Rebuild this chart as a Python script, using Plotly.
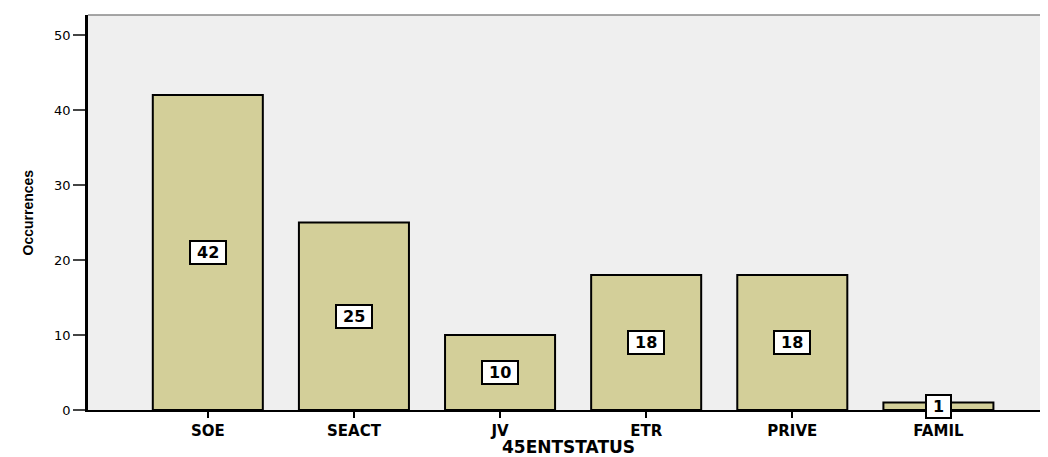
import plotly.graph_objects as go

categories = ["SOE", "SEACT", "JV", "ETR", "PRIVE", "FAMIL"]
counts = [42, 25, 10, 18, 18, 1]
y_ticks = [0, 10, 20, 30, 40, 50]

fig = go.Figure()
fig.add_trace(go.Bar(
    x=categories, y=counts, width=0.753,
    marker=dict(color="#D3CF99", line=dict(color="#000000", width=2)),
    hoverinfo="x+y",
))

for c, v in zip(categories, counts):
    fig.add_annotation(
        x=c, y=v / 2, text="&nbsp;<b>%d</b>&nbsp;" % v, showarrow=False,
        font=dict(family="DejaVu Sans, Liberation Sans", size=16, color="#000"),
        bgcolor="#FFFFFF", bordercolor="#000000", borderwidth=2, borderpad=1,
    )

fig.add_shape(type="line", xref="paper", yref="paper", x0=0, x1=1, y0=1, y1=1,
              line=dict(color="#888888", width=1.5))

# axis titles
fig.add_annotation(xref="paper", yref="paper", x=0.5, y=0, yshift=-37,
                   xanchor="center", yanchor="middle", showarrow=False,
                   text="<b>45ENTSTATUS</b>",
                   font=dict(family="DejaVu Sans, Liberation Sans", size=17, color="#000"))
fig.add_annotation(xref="paper", yref="paper", x=0, xshift=-61, y=0.5,
                   xanchor="center", yanchor="middle", showarrow=False, textangle=-90,
                   text="<b>Occurrences</b>",
                   font=dict(family="Liberation Sans Narrow, Arial Narrow, Liberation Sans", size=14, color="#000"))

# page body has an 8px default margin, so the figure is sized to fit the window
fig.update_layout(
    width=1040, height=449,
    margin=dict(l=80, r=0, t=7, b=47),
    paper_bgcolor="#FFFFFF", plot_bgcolor="#EFEFEF",
    showlegend=False,
    xaxis=dict(
        type="category", range=[-0.82, 5.75], automargin=False,
        showline=True, linecolor="#000000", linewidth=1.5,
        ticks="outside", ticklen=6, tickcolor="#000", tickwidth=2,
        tickfont=dict(family="DejaVu Sans, Liberation Sans", size=15, color="#000", weight="bold"),
        showgrid=False, zeroline=False,
    ),
    yaxis=dict(
        range=[0, 52.67], tickvals=y_ticks, automargin=False,
        showline=True, linecolor="#000000", linewidth=2.5,
        ticks="outside", ticklen=12, tickcolor="#444", tickwidth=1.5,
        tickfont=dict(family="DejaVu Sans, Liberation Sans", size=13, color="#000"),
        showgrid=False, zeroline=False,
    ),
)

fig.write_html("out.html")
